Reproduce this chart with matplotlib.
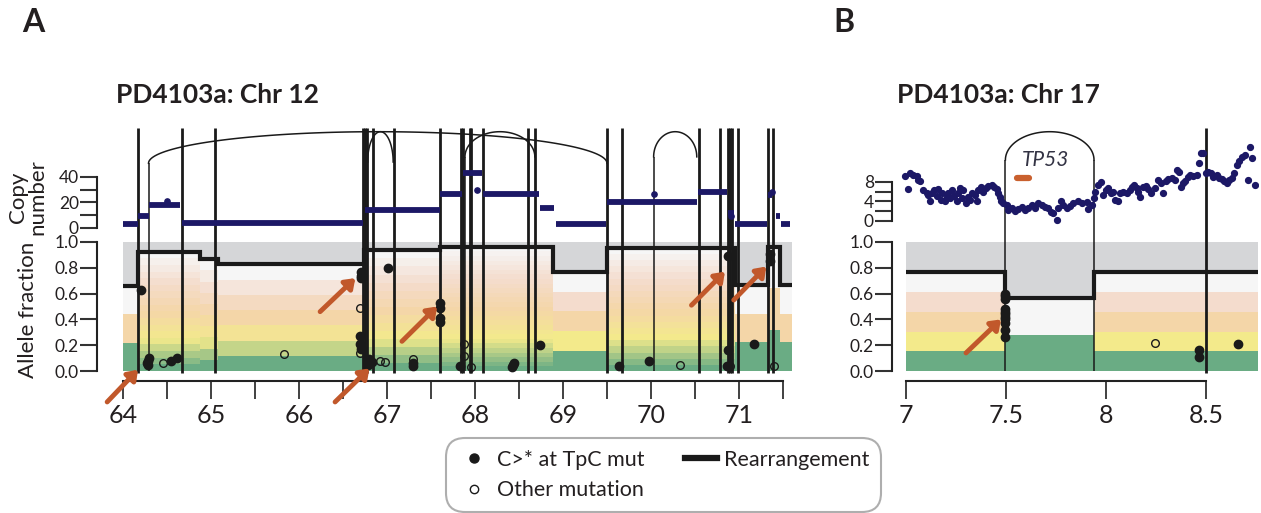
import matplotlib
matplotlib.use("Agg")
import matplotlib.pyplot as plt
from matplotlib.colors import LinearSegmentedColormap
from matplotlib.lines import Line2D
from matplotlib.legend_handler import HandlerLine2D
import numpy as np

plt.rcParams['font.family'] = ['Lato', 'DejaVu Sans']
plt.rcParams['text.color'] = '#231f20'
plt.rcParams['xtick.color'] = '#333333'
plt.rcParams['ytick.color'] = '#333333'
plt.rcParams['xtick.labelcolor'] = '#231f20'
plt.rcParams['ytick.labelcolor'] = '#231f20'

W, H = 1261, 513

# ---------------- panel A: PD4103a chr 12 (Mb) ----------------
# expected-VAF step line and number of colour bands per segment
a_seg_edges = [64.0, 64.17, 64.88, 65.08, 66.74, 67.60, 68.89, 69.50, 70.95, 71.33, 71.47, 71.6]
a_seg_level = [0.66, 0.925, 0.866, 0.827, 0.935, 0.963, 0.77, 0.955, 0.667, 0.96, 0.667]
a_seg_bands = [3, 18, 10, 7, 15, 27, 5, 20, 3, 3, 3]

# copy number segments
a_cn_start = [64.00, 64.17, 64.30, 64.67, 66.75, 67.60, 67.86, 68.09, 68.74, 68.92, 69.50, 70.53, 70.87, 70.95, 71.33, 71.42, 71.48]
a_cn_end   = [64.17, 64.29, 64.65, 66.73, 67.60, 67.85, 68.08, 68.73, 68.90, 69.49, 70.52, 70.86, 70.94, 71.32, 71.38, 71.47, 71.58]
a_cn_value = [3, 9, 18, 4, 14, 27, 43, 27, 16, 3, 20, 28, 12, 3, 26, 9, 3]
a_cn_extra_pos = [64.50, 68.02, 70.03, 70.91, 71.37]
a_cn_extra_val = [21, 30, 27, 9, 28]

# rearrangement breakpoints
a_sv_thick = [64.17, 64.67, 65.05, 66.725, 66.75, 66.775, 66.84, 67.08, 67.60, 67.84, 67.86,
              67.94, 67.96, 68.09, 68.60, 68.68, 69.50, 69.67, 70.54, 70.78, 70.87, 70.895,
              70.92, 70.99, 71.33, 71.39]
a_arc_start = [64.29, 66.78, 67.886, 70.03]
a_arc_end   = [69.50, 67.07, 68.68, 70.52]
a_arc_base  = [1.61, 1.62, 1.66, 1.66]
a_arc_legs  = [64.29, 67.886, 70.03]

# mutations (position Mb, allele fraction)
a_tpc_pos = [64.21, 64.27, 64.28, 64.29, 64.28, 64.55, 64.61, 66.70, 66.70, 66.71, 66.69, 66.69,
             66.70, 66.79, 66.81, 66.78, 66.83, 67.01, 67.29, 67.29, 67.60, 67.60, 67.60, 67.60,
             67.83, 68.42, 68.43, 68.44, 68.74, 69.64, 69.98, 70.88, 70.88, 70.86, 71.17, 71.35, 71.35]
a_tpc_af  = [0.63, 0.06, 0.08, 0.10, 0.05, 0.08, 0.10, 0.77, 0.74, 0.72, 0.27, 0.21,
             0.17, 0.09, 0.06, 0.05, 0.07, 0.80, 0.06, 0.04, 0.53, 0.49, 0.41, 0.38,
             0.04, 0.03, 0.05, 0.06, 0.20, 0.04, 0.08, 0.89, 0.16, 0.04, 0.21, 0.91, 0.85]
a_other_pos = [64.46, 65.83, 66.69, 66.69, 66.92, 66.98, 67.29, 67.87, 67.87, 67.95, 70.33, 70.90, 71.40]
a_other_af  = [0.06, 0.13, 0.49, 0.14, 0.08, 0.07, 0.09, 0.21, 0.12, 0.03, 0.05, 0.04, 0.04]

a_arrow_tail = [(63.82, -0.24), (66.24, 0.46), (66.41, -0.24), (67.17, 0.23), (70.46, 0.51), (70.94, 0.55)]
a_arrow_head = [(64.17, 0.01), (66.64, 0.72), (66.80, 0.02), (67.57, 0.50), (70.84, 0.77), (71.31, 0.81)]

# ---------------- panel B: PD4103a chr 17 (Mb) ----------------
b_seg_edges = [7.0, 7.497, 7.94, 8.76]
b_seg_level = [0.765, 0.564, 0.765]
b_seg_bands = [5, 2, 5]

b_cn_pos = [6.995, 7.02, 7.037, 7.053, 7.058, 7.012, 7.07, 7.087, 7.103, 7.112, 7.12, 7.128, 7.142,
            7.153, 7.162, 7.175, 7.182, 7.195, 7.203, 7.212, 7.22, 7.232, 7.242, 7.253, 7.262,
            7.27, 7.278, 7.287, 7.298, 7.308, 7.32, 7.332, 7.345, 7.353, 7.362, 7.375, 7.387,
            7.398, 7.412, 7.428, 7.442, 7.453, 7.462, 7.47, 7.475, 7.487, 7.503, 7.512, 7.528,
            7.545, 7.562, 7.578, 7.595, 7.612, 7.628, 7.645, 7.662, 7.678, 7.695, 7.712, 7.725,
            7.737, 7.753, 7.762, 7.775, 7.787, 7.803, 7.82, 7.837, 7.858,
            7.878, 7.903, 7.912, 7.928, 7.942, 7.945, 7.962, 7.975, 7.987, 7.998, 8.012, 8.025,
            8.037, 8.045, 8.058, 8.07, 8.087, 8.103, 8.12, 8.132, 8.142, 8.153, 8.162, 8.172,
            8.187, 8.198, 8.212, 8.225, 8.245, 8.262, 8.275, 8.287, 8.298, 8.312, 8.328, 8.345,
            8.353, 8.365, 8.375, 8.387, 8.395, 8.408, 8.42, 8.437, 8.453, 8.465, 8.475, 8.487,
            8.498, 8.512, 8.525, 8.537, 8.553, 8.565, 8.578, 8.592, 8.603, 8.615, 8.628, 8.642,
            8.653, 8.665, 8.678, 8.695, 8.708, 8.72, 8.728, 8.745]
b_cn_val = [9.2, 9.8, 9.4, 9.2, 8.4, 6.5, 8.1, 6.4, 5.8, 5.3, 4.0, 5.7, 6.4,
            5.1, 6.5, 4.4, 5.7, 4.0, 5.0, 5.8, 4.7, 6.4, 5.1, 4.0, 5.7,
            6.7, 4.7, 6.4, 3.6, 5.0, 4.4, 5.7, 5.3, 4.0, 6.4, 7.0, 6.0,
            6.7, 7.2, 7.4, 7.0, 6.5, 5.7, 5.0, 4.0, 3.6, 3.3, 2.3, 2.6,
            2.1, 2.4, 2.9, 2.3, 2.6, 3.3, 2.6, 3.6, 3.3, 2.9, 2.6, 1.9,
            1.6, 0.3, 2.6, 4.0, 3.3, 2.6, 3.1, 3.6, 4.0,
            3.6, 3.8, 2.4, 3.3, 4.7, 6.0, 7.4, 7.9, 5.3, 6.4, 6.7, 5.7,
            6.0, 4.4, 4.0, 5.7, 6.0, 5.7, 6.4, 7.0, 7.4, 6.7, 6.0, 4.9,
            7.0, 7.2, 6.5, 5.7, 6.7, 8.4, 7.7, 5.7, 8.1, 8.6, 8.8, 8.4,
            10.5, 10.1, 7.0, 7.7, 8.3, 9.0, 9.4, 9.2, 9.4, 11.8, 13.9, 14.0,
            9.8, 10.1, 9.9, 9.1, 9.4, 8.8, 8.6, 8.1, 7.7, 8.4, 8.8, 9.8,
            11.5, 12.4, 13.2, 13.5, 8.4, 15.1, 12.9, 7.4]

b_sv_thick = [8.499]
b_arc_start = [7.497]
b_arc_end = [7.94]
b_arc_base = [1.636]
b_arc_legs = [7.497, 7.94]

b_tpc_pos = [7.497] * 11 + [8.467, 8.467, 8.66]
b_tpc_af = [0.60, 0.58, 0.56, 0.48, 0.46, 0.44, 0.42, 0.40, 0.37, 0.32, 0.26, 0.16, 0.11, 0.21]
b_other_pos = [8.245]
b_other_af = [0.22]

b_arrow_tail = [(7.30, 0.14)]
b_arrow_head = [(7.475, 0.40)]

tp53_start, tp53_end = 7.553, 7.617

# ---------------- style ----------------
GRAY = '#d5d6d8'
NAVY = '#1c1866'
ORANGE = '#c1582b'
INK = '#1a1a1a'
band_cmap = LinearSegmentedColormap.from_list(
    'vaf', ['#6aac84', '#f3ea8b', '#f4d6a8', '#f4dccd', '#f6f6f6'])
ARC_TOP = 1.855
SV_TOP = 1.88


def px_axes(fig, left, right, top, bottom):
    return fig.add_axes([left / W, 1 - bottom / H, (right - left) / W, (bottom - top) / H])


def draw_panel(ax, edges, levels, nbands, sv_thick, arc_s, arc_e, arc_b, legs,
               tpc_x, tpc_y, oth_x, oth_y, tails, heads):
    for x0, x1, lev, n in zip(edges[:-1], edges[1:], levels, nbands):
        ax.bar(x0, 1 - lev, width=x1 - x0, bottom=lev, align='edge', color=GRAY, lw=0, zorder=1)
        step = lev / n
        for k in range(n):
            ax.bar(x0, step, width=x1 - x0, bottom=k * step, align='edge',
                   color=band_cmap(k / (n - 1)), lw=0, zorder=1)
    ax.stairs(levels, edges, baseline=None, color=INK, lw=3.0, zorder=3)
    ax.vlines(sv_thick, -0.012, SV_TOP, color=INK, lw=2.0, zorder=4)
    leg_top = [arc_b[arc_s.index(x)] if x in arc_s else arc_b[arc_e.index(x)] for x in legs]
    ax.vlines(legs, 0, leg_top, color=INK, lw=1.1, zorder=4)
    t = np.linspace(0, np.pi, 120)
    for x0, x1, b in zip(arc_s, arc_e, arc_b):
        c, a = (x0 + x1) / 2, (x1 - x0) / 2
        ax.plot(c - a * np.cos(t), b + (ARC_TOP - b) * np.sin(t), color=INK, lw=1.1, zorder=4)
    ax.plot(tpc_x, tpc_y, 'o', ms=6, color=INK, mec=INK, zorder=5, clip_on=False)
    ax.plot(oth_x, oth_y, 'o', ms=5.5, mfc='none', mec=INK, mew=1.0, zorder=5, clip_on=False)
    for tail, head in zip(tails, heads):
        ax.annotate('', xy=head, xytext=tail, annotation_clip=False, zorder=6,
                    arrowprops=dict(arrowstyle='-|>,head_length=0.55,head_width=0.4',
                                    lw=3.5, color=ORANGE, shrinkA=0, shrinkB=0))


def style_axes(ax, xlo, xhi, xticks, xlabels, minor):
    ax.set_ylim(-0.3, 1.9)
    ax.set_facecolor('none')
    for s in ['top', 'right']:
        ax.spines[s].set_visible(False)
    ax.spines['left'].set_bounds(0, 1)
    ax.spines['bottom'].set_bounds(xlo, xhi)
    ax.spines['bottom'].set_position(('data', -0.08))
    for s in ['left', 'bottom']:
        ax.spines[s].set_linewidth(1.5)
        ax.spines[s].set_color('#222222')
    ax.set_xticks(xticks)
    ax.set_xticklabels(xlabels)
    ax.set_xticks(minor, minor=True)
    ax.tick_params(axis='x', which='both', length=13, width=1.3, labelsize=18, pad=3)
    ax.set_yticks([0, 0.2, 0.4, 0.6, 0.8, 1.0])
    ax.set_yticklabels(['0.0', '0.2', '0.4', '0.6', '0.8', '1.0'])
    ax.tick_params(axis='y', length=12, width=1.5, labelsize=12.5, pad=1)


def cn_axes(fig, ax, base, scale, top, major, minor):
    ax2 = fig.add_axes(ax.get_position(), sharex=ax)
    ax2.set_ylim((-0.3 - base) / scale, (1.9 - base) / scale)
    ax2.set_facecolor('none')
    for s in ['top', 'right', 'bottom']:
        ax2.spines[s].set_visible(False)
    ax2.spines['left'].set_bounds(0, top)
    ax2.spines['left'].set_linewidth(1.5)
    ax2.spines['left'].set_color('#222222')
    ax2.xaxis.set_visible(False)
    ax2.set_yticks(major)
    ax2.set_yticks(minor, minor=True)
    ax2.tick_params(axis='y', which='both', length=12, width=1.5, labelsize=12.5, pad=1)
    return ax2


class MarkerRight(HandlerLine2D):
    # put the legend marker close to its label
    def get_xdata(self, legend, xdescent, ydescent, width, height, fontsize):
        xdata, _ = super().get_xdata(legend, xdescent, ydescent, width, height, fontsize)
        return xdata, np.array([-xdescent + width - 0.6 * fontsize])


fig = plt.figure(figsize=(W / 100, H / 100), dpi=100)

# panel A
axA = px_axes(fig, 97, 123 + 7.6 * 88, 371 - 1.9 * 129, 371 + 0.3 * 129)
axA.set_xlim(64 - 26 / 88, 71.6)
draw_panel(axA, a_seg_edges, a_seg_level, a_seg_bands, a_sv_thick, a_arc_start, a_arc_end,
           a_arc_base, a_arc_legs, a_tpc_pos, a_tpc_af, a_other_pos, a_other_af,
           a_arrow_tail, a_arrow_head)
style_axes(axA, 64, 71.5, list(range(64, 72)), [str(v) for v in range(64, 72)],
           [64.5 + i for i in range(8)])
cnA = cn_axes(fig, axA, 1.109, 0.009884, 40, [0, 20, 40], [10, 30])
cnA.hlines(a_cn_value, a_cn_start, a_cn_end, color=NAVY, lw=4.2, zorder=7)
cnA.plot(a_cn_extra_pos, a_cn_extra_val, 'o', ms=3.8, color=NAVY, zorder=7)

# panel B
axB = px_axes(fig, 892, 906 + 1.76 * 200, 371 - 1.9 * 129, 371 + 0.3 * 129)
axB.set_xlim(7 - 14 / 200, 8.76)
draw_panel(axB, b_seg_edges, b_seg_level, b_seg_bands, b_sv_thick, b_arc_start, b_arc_end,
           b_arc_base, b_arc_legs, b_tpc_pos, b_tpc_af, b_other_pos, b_other_af,
           b_arrow_tail, b_arrow_head)
style_axes(axB, 7, 8.5, [7, 7.5, 8, 8.5], ['7', '7.5', '8', '8.5'], [])
axB.plot([tp53_start, tp53_end], [1.50, 1.50], color='#c9602e', lw=4.5,
         solid_capstyle='round', zorder=6)
axB.text(7.70, 1.635, 'TP53', style='italic', fontsize=15, ha='center', va='center', color='#333344')
cnB = cn_axes(fig, axB, 1.163, 0.03779, 8, [0, 4, 8], [2, 6])
cnB.plot(b_cn_pos, b_cn_val, 'o', ms=4.2, color=NAVY, zorder=7)

# labels
fig.text(28 / W, 1 - 197 / H, 'Copy\nnumber', rotation=90, ha='center', va='center',
         fontsize=16, linespacing=0.95)
fig.text(28 / W, 1 - 310 / H, 'Allele fraction', rotation=90, ha='center', va='center', fontsize=16)
fig.text(116 / W, 1 - 95 / H, 'PD4103a: Chr 12', fontsize=19, fontweight='bold', va='center')
fig.text(897 / W, 1 - 95 / H, 'PD4103a: Chr 17', fontsize=19, fontweight='bold', va='center')
fig.text(22 / W, 1 - 22 / H, 'A', fontsize=23, fontweight='bold', va='center')
fig.text(833 / W, 1 - 22 / H, 'B', fontsize=23, fontweight='bold', va='center')

h_tpc = Line2D([], [], ls='none', marker='o', ms=6.5, color=INK)
h_oth = Line2D([], [], ls='none', marker='o', ms=6, mfc='none', mec=INK, mew=1.0)
h_sv = Line2D([], [], color=INK, lw=4.5)
leg = fig.legend([h_tpc, h_oth, h_sv], ['C>* at TpC mut', 'Other mutation', 'Rearrangement'], ncol=2,
                 loc='upper left', bbox_to_anchor=(446 / W, 1 - 438 / H), borderaxespad=0,
                 fontsize=15.5, frameon=True, fancybox=True, handlelength=1.5, handletextpad=0.3,
                 columnspacing=1.9, labelspacing=0.49, borderpad=0.55,
                 handler_map={h_tpc: MarkerRight(), h_oth: MarkerRight()})
leg.get_frame().set_edgecolor('#9a9a9a')
leg.get_frame().set_linewidth(1.5)
leg.get_frame().set_boxstyle('round,pad=0,rounding_size=0.9')

fig.savefig('out.png', dpi=100)
